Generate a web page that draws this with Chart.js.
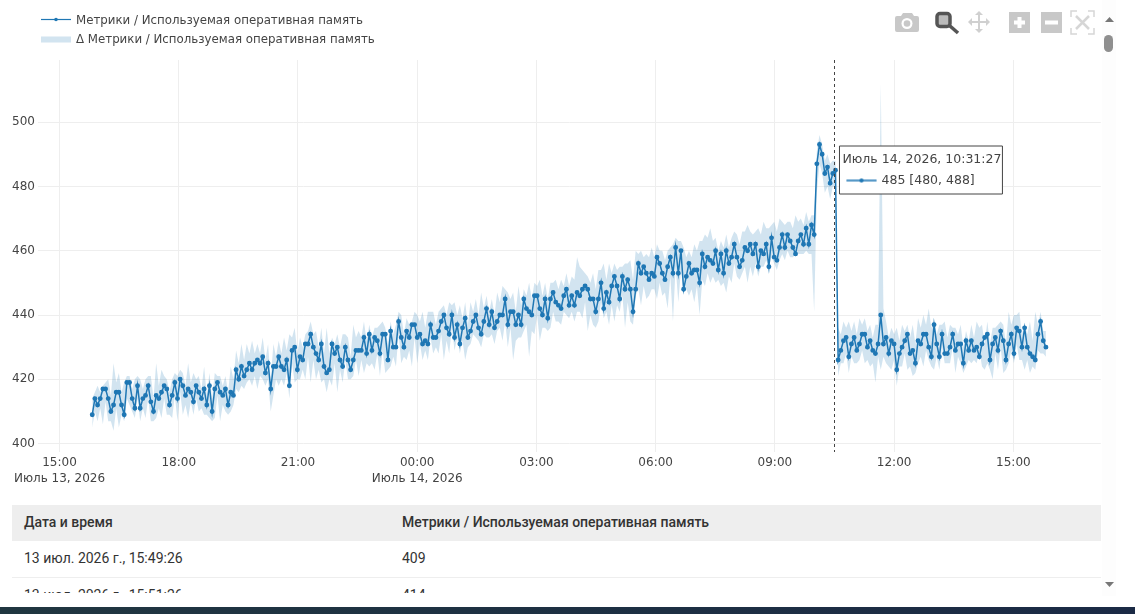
<!DOCTYPE html>
<html lang="ru">
<head>
<meta charset="utf-8">
<title>Метрики</title>
<script src="https://cdn.jsdelivr.net/npm/chart.js@4"></script>
<style>
    html, body { margin: 0; padding: 0; background: #fff; overflow: hidden; }
    body { width: 1135px; height: 614px; position: relative; font-family: 'DejaVu Sans', sans-serif; color: #444; }
    #plot { position: absolute; left: 0; top: 0; width: 1104px; height: 500px; }
    .legend-row { position: absolute; left: 41px; height: 16px; font-size: 11.8px; line-height: 16px; white-space: nowrap; }
    .legend-row svg { position: absolute; left: 0; top: 0; }
    .legend-row span { position: absolute; left: 35px; }
    #toolbar { position: absolute; left: 890px; top: 8px; }
    #tablewrap { position: absolute; left: 12px; top: 505px; width: 1089px; height: 88px; overflow: hidden; }
    table { width: 100%; border-collapse: collapse; font-family: Roboto, sans-serif; font-size: 14px; color: #333; table-layout: fixed; }
    th { background: #eee; height: 34px; padding: 0 12px 2px; text-align: left; font-weight: 500; }
    td { height: 34px; padding: 0 12px 2px; border-bottom: 1px solid #eee; }
    th:first-child, td:first-child { width: 354px; }
    #scroll { position: absolute; left: 1102px; top: 0; width: 14px; height: 596px; background: #fdfdfd; }
    #thumb { position: absolute; left: 2px; top: 35px; width: 9px; height: 17px; border-radius: 5px; background: #8f8f8f; }
    #taskbar { position: absolute; left: 0; top: 607px; width: 1135px; height: 7px; background: linear-gradient(90deg, #203640, #1b2a45); }
</style>
</head>
<body>
<div id="plot"><canvas id="chart"></canvas></div>

<div class="legend-row" style="top:12px">
    <svg width="31" height="16"><line x1="0" y1="7.5" x2="30" y2="7.5" stroke="#1f77b4" stroke-width="1.2"/><circle cx="15" cy="7.5" r="1.8" fill="#1f77b4"/></svg>
    <span id="legend1"></span>
</div>
<div class="legend-row" style="top:31px">
    <svg width="31" height="16"><rect x="0" y="5.5" width="30" height="6" fill="#d2e4f0"/></svg>
    <span id="legend2"></span>
</div>

<svg id="toolbar" width="212" height="30" viewBox="0 0 212 30">
    <path fill="#c8c8c8" d="M7 8h4l2-3h9l2 3h3a2 2 0 0 1 2 2v12a2 2 0 0 1-2 2H7a2 2 0 0 1-2-2V10a2 2 0 0 1 2-2z"/>
    <circle cx="17" cy="15.500" r="5.500" fill="#fff"/><circle cx="17" cy="15.500" r="3.300" fill="#c8c8c8"/>
    <rect x="47" y="5.500" width="13" height="13" rx="3" fill="#bbb" stroke="#555" stroke-width="3.500"/>
    <line x1="60" y1="18" x2="68" y2="25" stroke="#555" stroke-width="3.500"/>
    <path fill="#d0d0d0" d="M89 3l4 4h-3v6h6v-3l4 4-4 4v-3h-6v6h3l-4 4-4-4h3v-6h-6v3l-4-4 4-4v3h6V7h-3z"/>
    <rect x="119" y="4" width="21" height="21" fill="#c8c8c8"/><path fill="#fff" d="M127.500 9h4v3.500h3.500v4h-3.500V20h-4v-3.500H124v-4h3.500z"/>
    <rect x="151" y="4" width="21" height="21" fill="#c8c8c8"/><rect x="155" y="12.500" width="13" height="4" fill="#fff"/>
    <g fill="none" stroke="#d6d6d6" stroke-width="1.500">
        <path d="M181 9V3h6M198 3h6v6M204 20v6h-6M187 26h-6v-6"/>
        <path d="M186 8l13 13M199 8l-13 13" stroke-width="2.500"/>
    </g>
</svg>

<div id="tablewrap"><table><thead><tr><th id="colTime"></th><th id="colValue"></th></tr></thead><tbody id="rows"></tbody></table></div>

<div id="scroll">
    <svg width="14" height="596" style="position:absolute;left:0;top:0">
        <path d="M3 22l4.500-5 4.500 5z" fill="#777"/>
        <path d="M3 582l4.500 5 4.500-5z" fill="#777"/>
    </svg>
    <div id="thumb"></div>
</div>
<div id="taskbar"></div>

<script>
// series names
const seriesName = 'Метрики / Используемая оперативная память';
const bandName = 'Δ Метрики / Используемая оперативная память';

// memory used, one reading every 4 minutes or so
const memoryValues = [
    409,414,412,414,417,417,414,410,412,416,416,412,409,419,419,
    414,411,418,411,414,415,418,413,410,415,414,416,418,417,412,
    415,419,414,420,418,415,417,416,413,418,416,414,417,412,418,
    410,417,419,416,415,417,412,416,415,423,420,424,421,423,425,
    423,425,426,425,427,422,425,417,424,424,427,424,423,426,418,
    429,430,423,427,426,431,431,434,430,428,426,431,424,422,423,
    431,428,430,426,424,430,426,423,426,429,429,429,433,428,434,
    429,433,432,428,434,434,426,435,430,430,438,433,430,435,433,
    437,437,433,434,431,432,431,437,433,433,435,438,440,436,434,
    440,433,437,431,436,439,433,435,438,440,436,434,438,442,437,441,436,438,440,440,
    445,437,441,441,437,440,437,445,442,441,440,446,446,442,440,445,439,445,447,444,
    443,442,446,448,443,446,443,447,446,448,449,448,445,445,441,445,450,442,447,444,
    449,452,449,445,452,448,451,448,441,448,456,453,455,453,
    451,453,452,458,456,453,451,455,458,453,461,453,460,448,452,456,453,454,454,450,
    459,455,458,457,456,460,454,459,453,460,456,458,462,458,455,457,461,460,462,459,
    462,455,460,459,462,455,464,458,457,461,465,461,465,463,461,459,463,465,462,467,
    462,468,465,
    487,493,490,484,486,481,484,485,
    426,429,432,433,427,431,433,429,431,434,
    434,430,432,429,428,431,440,431,433,428,
    432,431,423,428,430,432,434,428,429,425,
    432,431,434,434,430,427,437,431,427,434,
    428,428,430,434,429,431,431,425,432,429,
    432,429,430,427,431,433,434,426,431,433,
    429,435,432,426,431,434,428,436,435,430,
    436,430,428,427,426,434,438,432,430
];

// min/max band for each reading
const bandHigh = [
    414,416,418,416,418,419,420,415,425,419,422,416,419,421,421,
    417,420,421,420,417,420,421,421,414,425,418,423,421,420,416,
    420,422,421,423,422,418,425,419,422,420,421,417,424,415,422,
    414,422,421,421,418,421,416,424,420,429,425,431,426,431,428,
    432,428,431,428,433,426,431,420,431,427,432,428,433,429,434,
    433,436,428,433,430,434,435,438,434,435,430,436,428,436,428,
    433,431,434,430,434,434,433,427,437,433,435,433,438,432,437,
    433,436,436,437,438,436,431,438,434,437,441,440,434,439,437,
    438,441,440,438,441,436,441,441,441,437,441,442,443,440,444,
    443,444,440,443,439,444,437,444,441,445,440,447,442,446,441,445,440,447,444,449,
    448,447,445,447,441,449,443,448,446,450,445,450,449,451,446,450,445,450,450,451,
    448,451,449,453,449,452,451,458,455,454,453,452,450,453,448,454,454,456,451,456,
    453,456,454,455,455,456,456,457,451,460,459,460,458,459,
    458,461,458,462,460,460,457,460,461,462,464,463,463,461,458,460,458,462,460,463,
    463,465,464,467,463,464,460,463,461,465,461,464,466,465,462,466,466,468,466,465,
    466,467,465,469,467,467,468,469,466,470,469,468,469,469,467,471,469,470,468,472,
    469,471,471,
    491,496,493,488,490,487,488,488,
    436,434,438,436,438,435,438,434,439,437,
    439,435,437,433,437,437,512,442,438,433,
    436,434,436,432,437,435,437,433,437,431,
    439,436,440,437,442,436,438,434,437,437,
    438,433,437,436,436,434,437,430,435,432,
    437,433,438,436,437,431,438,431,436,436,
    437,438,437,431,441,437,440,440,441,434,
    437,434,438,432,441,437,441,435,435
];
const bandLow = [
    405,410,407,411,406,413,407,407,404,411,405,409,407,414,412,
    410,408,414,407,411,408,414,407,407,408,411,408,414,409,409,
    408,415,407,416,409,412,408,413,409,414,410,411,409,409,408,
    407,408,415,407,412,410,409,410,412,417,416,418,417,419,420,
    418,421,417,421,420,418,420,410,415,420,418,420,418,422,414,
    425,419,420,420,423,420,427,419,426,420,423,419,420,416,420,
    418,425,416,423,419,426,420,420,421,426,421,426,422,425,424,
    425,423,428,421,429,422,423,424,427,424,434,425,427,426,429,
    424,433,425,431,426,429,426,433,428,430,428,434,426,432,428,
    436,429,433,428,432,426,430,431,434,433,432,430,434,433,433,434,431,435,436,432,
    438,430,436,426,432,433,433,435,437,427,435,434,440,432,436,436,435,436,441,438,
    438,437,441,440,439,441,438,441,441,439,444,435,440,437,436,438,444,439,441,437,
    443,438,443,441,446,436,444,438,437,446,448,443,449,445,
    446,448,448,445,450,446,447,442,452,438,455,444,454,447,448,446,448,444,449,440,
    451,449,453,450,452,450,451,449,450,447,452,450,456,452,451,453,455,450,455,452,
    456,452,455,455,457,455,458,456,454,457,459,457,460,458,458,459,459,459,459,460,
    459,459,441,
    478,487,484,478,480,476,480,480,
    421,425,425,428,422,427,425,425,426,429,
    425,426,424,425,419,427,423,427,425,424,
    423,426,418,424,424,428,423,424,421,422,
    425,427,424,429,426,424,423,427,423,430,
    425,425,425,430,422,427,425,422,424,426,
    425,426,425,429,424,423,425,423,420,428,
    423,430,422,423,425,429,425,431,426,426,
    423,426,422,424,423,429,428,428,427
];

// x axis, minutes counted from 13 Jul 15:00
const startMinute = 49.43;
const stepMinutes = 4.0216;
const tickMinutes = [0, 180, 360, 540, 720, 900, 1080, 1260, 1440];
const tickTimes = ['15:00', '18:00', '21:00', '00:00', '03:00', '06:00', '09:00', '12:00', '15:00'];
const tickDates = ['Июль 13, 2026', '', '', 'Июль 14, 2026', '', '', '', '', ''];

// hovered reading
const hoverIndex = 279;
const hoverTitle = 'Июль 14, 2026, 10:31:27';
const hoverLow = 480;
const hoverHigh = 488;

// table under the chart
const tableHeaders = ['Дата и время', seriesName];
const tableTimes = ['13 июл. 2026 г., 15:49:26', '13 июл. 2026 г., 15:51:26'];
const tableValues = [409, 414];

document.getElementById('legend1').textContent = seriesName;
document.getElementById('legend2').textContent = bandName;
document.getElementById('colTime').textContent = tableHeaders[0];
document.getElementById('colValue').textContent = tableHeaders[1];
document.getElementById('rows').innerHTML = tableTimes
    .map((t, i) => `<tr><td>${t}</td><td>${tableValues[i]}</td></tr>`).join('');

const lineColor = '#1f77b4';
const linePoints = memoryValues.map((v, i) => ({ x: startMinute + i * stepMinutes, y: v }));
const lowPoints = bandLow.map((v, i) => ({ x: startMinute + i * stepMinutes, y: v }));
const highPoints = bandHigh.map((v, i) => ({ x: startMinute + i * stepMinutes, y: v }));

Chart.defaults.font.family = "'DejaVu Sans', sans-serif";
Chart.defaults.font.size = 12;
Chart.defaults.color = '#444';

// little line-and-dot swatch for the tooltip
const swatch = document.createElement('canvas');
swatch.width = 38;
swatch.height = 8;
const sw = swatch.getContext('2d');
sw.strokeStyle = lineColor;
sw.lineWidth = 1;
sw.beginPath();
sw.moveTo(5, 4);
sw.lineTo(35, 4);
sw.stroke();
sw.fillStyle = lineColor;
sw.beginPath();
sw.arc(20, 4, 1.8, 0, Math.PI * 2);
sw.fill();

Chart.Tooltip.positioners.besideSpike = function (items) {
    if (!items.length) return false;
    return { x: items[0].element.x + 4, y: 146 };
};

const spikeLine = {
    id: 'spikeLine',
    afterDatasetsDraw(chart) {
        const x = chart.getDatasetMeta(0).data[hoverIndex].x;
        const { top, bottom } = chart.chartArea;
        const ctx = chart.ctx;
        ctx.save();
        ctx.strokeStyle = '#444';
        ctx.lineWidth = 1;
        ctx.setLineDash([3, 3]);
        ctx.beginPath();
        ctx.moveTo(Math.round(x) - 0.5, top);
        ctx.lineTo(Math.round(x) - 0.5, bottom);
        ctx.stroke();
        ctx.restore();
    }
};

const chart = new Chart(document.getElementById('chart'), {
    type: 'line',
    data: {
        datasets: [
            {
                label: seriesName,
                data: linePoints,
                borderColor: lineColor,
                backgroundColor: lineColor,
                borderWidth: 1.5,
                pointRadius: 1.7,
                pointHoverRadius: 1.7,
                tension: 0,
                fill: false
            },
            {
                label: bandName,
                data: lowPoints,
                borderWidth: 0,
                pointRadius: 0,
                tension: 0,
                fill: '+1',
                backgroundColor: 'rgba(31, 119, 180, 0.2)'
            },
            {
                label: bandName + ' max',
                data: highPoints,
                borderWidth: 0,
                pointRadius: 0,
                tension: 0,
                fill: false
            }
        ]
    },
    options: {
        responsive: true,
        maintainAspectRatio: false,
        animation: false,
        events: [],
        layout: { padding: { top: 60, right: 0, bottom: 0, left: 0 } },
        plugins: {
            legend: { display: false },
            tooltip: {
                position: 'besideSpike',
                xAlign: 'left',
                yAlign: 'top',
                caretSize: 0,
                caretPadding: 0,
                cornerRadius: 0,
                backgroundColor: '#fff',
                borderColor: '#444',
                borderWidth: 1,
                titleColor: '#444',
                bodyColor: '#444',
                titleFont: { size: 12.5, weight: 'normal' },
                bodyFont: { size: 12.5 },
                titleMarginBottom: 6,
                padding: { top: 6, bottom: 6, left: 3, right: 1 },
                displayColors: true,
                usePointStyle: true,
                boxWidth: 36,
                boxHeight: 8,
                boxPadding: 1,
                filter: item => item.datasetIndex === 0,
                callbacks: {
                    title: () => hoverTitle,
                    label: item => `${item.parsed.y} [${hoverLow}, ${hoverHigh}]`,
                    labelPointStyle: () => ({ pointStyle: swatch, rotation: 0 })
                }
            }
        },
        scales: {
            x: {
                type: 'linear',
                min: -32.45,
                max: 1572,
                afterBuildTicks: axis => { axis.ticks = tickMinutes.map(v => ({ value: v })); },
                afterFit: axis => { axis.height = 48; },
                grid: { color: '#eee', drawTicks: false },
                border: { display: false },
                ticks: {
                    autoSkip: false,
                    maxRotation: 0,
                    padding: 3,
                    font: { size: 12, lineHeight: 1.33 },
                    callback: (value, i) => tickDates[i] ? [tickTimes[i], tickDates[i]] : tickTimes[i]
                }
            },
            y: {
                min: 397.4,
                max: 519.3,
                afterFit: axis => { axis.width = 38; },
                grid: { color: '#eee', drawTicks: false },
                border: { display: false },
                ticks: { stepSize: 20, includeBounds: false, padding: 3 }
            }
        }
    },
    plugins: [spikeLine]
});

const hoverPoint = chart.getDatasetMeta(0).data[hoverIndex];
chart.tooltip.setActiveElements([{ datasetIndex: 0, index: hoverIndex }], { x: hoverPoint.x, y: hoverPoint.y });
chart.update();
</script>
</body>
</html>
